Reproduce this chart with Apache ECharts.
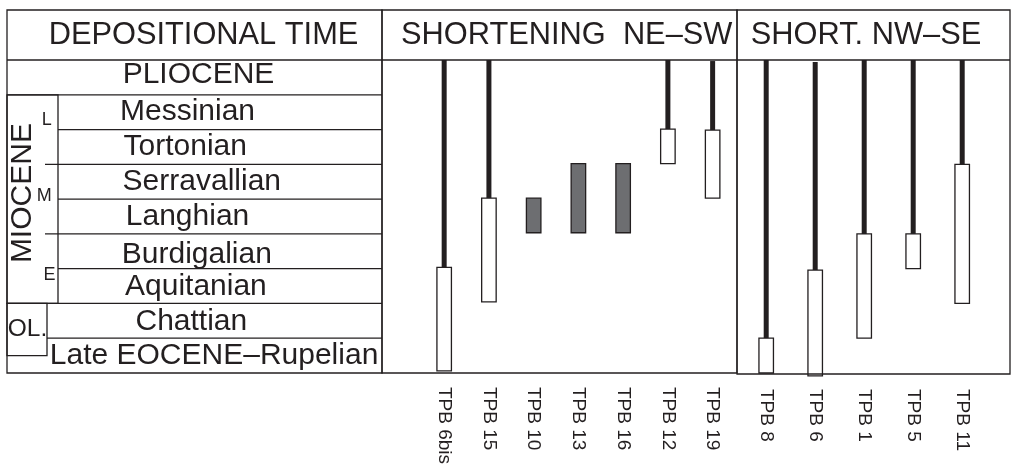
<!DOCTYPE html>
<html>
<head>
<meta charset="utf-8">
<script src="https://cdn.jsdelivr.net/npm/echarts@6/dist/echarts.min.js"></script>
<style>
  html, body { margin: 0; padding: 0; background: #fff; }
  #chart { width: 1011px; height: 467px; }
</style>
</head>
<body>
<div id="chart"></div>
<script>
// ---- Data -----------------------------------------------------------------
// Stages, youngest first; each stage spans one unit of the time axis
// (0 = base of the oldest stage, 9 = top of the Pliocene).
const stages = ['PLIOCENE', 'Messinian', 'Tortonian', 'Serravallian', 'Langhian',
  'Burdigalian', 'Aquitanian', 'Chattian', 'Late EOCENE\u2013Rupelian'];

// Epoch blocks of the left-hand column (time-axis units)
const epochNames = ['MIOCENE', 'OL.'];
const epochBase = [2, 0.5];
const epochTop = [8, 2];

// Miocene subdivisions
const subEpochNames = ['L', 'M', 'E'];
const subEpochBase = [6, 4, 2];
const subEpochTop = [8, 6, 4];

// Sites, NE–SW shortening
const neSwSites = ['TPB 6bis', 'TPB 15', 'TPB 10', 'TPB 13', 'TPB 16', 'TPB 12', 'TPB 19'];
const neSwAgeBase = [0, 2, 4, 4, 4, 6, 5];
const neSwAgeTop = [3, 5, 5, 6, 6, 7, 6.97];
const neSwShortTop = [9, 9, null, null, null, 9, 8.97];
const neSwSynDepo = [false, false, true, true, true, false, false];

// Sites, NW–SE shortening
const nwSeSites = ['TPB 8', 'TPB 6', 'TPB 1', 'TPB 5', 'TPB 11'];
const nwSeAgeBase = [0, -0.08, 1, 3, 2];
const nwSeAgeTop = [1, 2.96, 4, 4, 6];
const nwSeShortTop = [9, 8.94, 9, 9, 9];
const nwSeSynDepo = [false, false, false, false, false];

// ---- Look -----------------------------------------------------------------
const INK = '#231f20';
const GREY = '#6d6e71';
const FONT = "'Liberation Sans', Arial, Helvetica, sans-serif";
const HEAD = 30.8;
const BODY = 30;
const RULE = 1.3;
const BOX_W = 14.5;
const STEM_W = 5;

const FRAME = { left: 7, split1: 382, split2: 737, right: 1010, top: 10, head: 60, bottom: 373 };

// Stage labels: [x offset from the table edge, alignment, vertical nudge]
const stageLabelPos = [
  [191.5, 'center', -3], [113, 'left', 0], [116.5, 'left', 0], [115.6, 'left', 0],
  [118.8, 'left', 0], [114.8, 'left', 3], [118, 'left', 1], [128.5, 'left', 1], [42.8, 'left', 0]
];
const epochColWidth = [51, 40];
// Epoch labels: [x offset, vertical nudge, rotation]
const epochLabelPos = [[16, -6, Math.PI / 2], [20.5, 0, 0]];
const subColIndent = 38;
// Sub-epoch labels: [x offset, offset below block top]
const subEpochLabelPos = [[34.7, 25.5], [29.7, 31.5], [36.6, 41.5]];

function boundaryIndent(b) {
  for (let k = 0; k < epochNames.length; k++) {
    if (b === epochBase[k] || b === epochTop[k]) return 0;
  }
  if (subEpochBase.indexOf(b) >= 0) return subColIndent;
  for (let k = 0; k < epochNames.length; k++) {
    if (b > epochBase[k] && b < epochTop[k]) return epochColWidth[k];
  }
  return 0;
}

const textStyle = (size) => ({ fill: INK, fontFamily: FONT, fontSize: size });

// ---- Series ---------------------------------------------------------------
const stageSeries = {
  type: 'custom', xAxisIndex: 0, yAxisIndex: 0, silent: true,
  data: stages.map((name, i) => [stages.length - 1 - i, stages.length - i]),
  renderItem(params, api) {
    const i = params.dataIndex;
    const base = api.value(0), top = api.value(1);
    const pb = api.coord([0, base]);
    const pt = api.coord([0, top]);
    const rightX = api.coord([375, base])[0];
    const lay = stageLabelPos[i];
    const children = [{
      type: 'text',
      style: Object.assign(textStyle(BODY), {
        text: stages[i], x: pb[0] + lay[0], y: (pb[1] + pt[1]) / 2 + lay[2],
        textAlign: lay[1], textVerticalAlign: 'middle'
      })
    }];
    if (base > 0) {
      children.push({
        type: 'line',
        shape: { x1: pb[0] + boundaryIndent(base), y1: pb[1], x2: rightX, y2: pb[1] },
        style: { stroke: INK, lineWidth: RULE }
      });
    }
    return { type: 'group', children };
  }
};

const epochSeries = {
  type: 'custom', xAxisIndex: 0, yAxisIndex: 0, silent: true,
  data: epochNames.map((n, k) => [epochBase[k], epochTop[k]]),
  renderItem(params, api) {
    const k = params.dataIndex;
    const pb = api.coord([0, api.value(0)]);
    const pt = api.coord([0, api.value(1)]);
    const lay = epochLabelPos[k];
    return {
      type: 'group',
      children: [{
        type: 'rect',
        shape: { x: pb[0], y: pt[1], width: epochColWidth[k], height: pb[1] - pt[1] },
        style: { fill: 'none', stroke: INK, lineWidth: RULE }
      }, {
        type: 'text',
        x: pb[0] + lay[0], y: (pb[1] + pt[1]) / 2 + lay[1], rotation: lay[2],
        style: Object.assign(textStyle(k === 0 ? BODY : 24.5), {
          text: epochNames[k], x: 0, y: 0, textAlign: 'center', textVerticalAlign: 'middle'
        })
      }]
    };
  }
};

const subEpochSeries = {
  type: 'custom', xAxisIndex: 0, yAxisIndex: 0, silent: true,
  data: subEpochNames.map((n, k) => [subEpochBase[k], subEpochTop[k]]),
  renderItem(params, api) {
    const k = params.dataIndex;
    const pt = api.coord([0, api.value(1)]);
    const lay = subEpochLabelPos[k];
    return {
      type: 'text',
      style: Object.assign(textStyle(18), {
        text: subEpochNames[k], x: pt[0] + lay[0], y: pt[1] + lay[1],
        textAlign: 'left', textVerticalAlign: 'middle'
      })
    };
  }
};

function siteSeries(axisIndex, ageBase, ageTop, shortTop, synDepo) {
  return {
    type: 'custom', xAxisIndex: axisIndex, yAxisIndex: axisIndex, silent: true,
    data: ageBase.map((b, i) => [i, b, ageTop[i], shortTop[i] == null ? ageTop[i] : shortTop[i], synDepo[i] ? 1 : 0]),
    renderItem(params, api) {
      const i = api.value(0);
      const pBase = api.coord([i, api.value(1)]);
      const pTop = api.coord([i, api.value(2)]);
      const pStem = api.coord([i, api.value(3)]);
      const children = [];
      if (pTop[1] - pStem[1] > 0.5) {
        children.push({
          type: 'rect',
          shape: { x: pTop[0] - STEM_W / 2, y: pStem[1], width: STEM_W, height: pTop[1] - pStem[1] },
          style: { fill: INK }
        });
      }
      children.push({
        type: 'rect',
        shape: { x: pTop[0] - BOX_W / 2, y: pTop[1], width: BOX_W, height: pBase[1] - pTop[1] },
        style: { fill: api.value(4) ? GREY : '#ffffff', stroke: INK, lineWidth: RULE }
      });
      return { type: 'group', children };
    }
  };
}

// ---- Axes -----------------------------------------------------------------
const hiddenTime = { type: 'value', min: 0, max: 9, show: false };
const siteAxis = (sites, gridIndex) => ({
  type: 'category', gridIndex, data: sites, boundaryGap: true,
  axisLine: { show: false }, axisTick: { show: false }, splitLine: { show: false },
  axisLabel: { interval: 0, rotate: -90, margin: 16, color: INK, fontFamily: FONT, fontSize: 19 }
});

const chart = echarts.init(document.getElementById('chart'), null, { renderer: 'canvas' });
chart.setOption({
  animation: false,
  backgroundColor: '#ffffff',
  grid: [
    { left: 7, top: 60, width: 375, height: 313 },
    { left: 421.8, top: 60, width: 313.2, height: 313 },
    { left: 741.7, top: 60, width: 245, height: 313 }
  ],
  xAxis: [
    { type: 'value', gridIndex: 0, min: 0, max: 375, show: false },
    siteAxis(neSwSites, 1),
    siteAxis(nwSeSites, 2)
  ],
  yAxis: [
    Object.assign({ gridIndex: 0 }, hiddenTime),
    Object.assign({ gridIndex: 1 }, hiddenTime),
    Object.assign({ gridIndex: 2 }, hiddenTime)
  ],
  graphic: [
    { type: 'rect', z: 10, shape: { x: FRAME.left, y: FRAME.top, width: FRAME.split1 - FRAME.left, height: FRAME.bottom - FRAME.top },
      style: { fill: 'none', stroke: INK, lineWidth: RULE } },
    { type: 'rect', z: 10, shape: { x: FRAME.split1, y: FRAME.top, width: FRAME.split2 - FRAME.split1, height: FRAME.bottom - FRAME.top },
      style: { fill: 'none', stroke: INK, lineWidth: RULE } },
    { type: 'rect', z: 10, shape: { x: FRAME.split2, y: FRAME.top, width: FRAME.right - FRAME.split2, height: FRAME.bottom + 1 - FRAME.top },
      style: { fill: 'none', stroke: INK, lineWidth: RULE } },
    { type: 'line', z: 10, shape: { x1: FRAME.left, y1: FRAME.head, x2: FRAME.right, y2: FRAME.head },
      style: { stroke: INK, lineWidth: RULE } },
    { type: 'text', z: 10, style: Object.assign(textStyle(HEAD), { text: 'DEPOSITIONAL TIME', x: 203.5, y: 36, textAlign: 'center', textVerticalAlign: 'middle' }) },
    { type: 'text', z: 10, style: Object.assign(textStyle(HEAD), { text: 'SHORTENING  NE\u2013SW', x: 566.7, y: 36, textAlign: 'center', textVerticalAlign: 'middle' }) },
    { type: 'text', z: 10, style: Object.assign(textStyle(HEAD), { text: 'SHORT. NW\u2013SE', x: 866, y: 36, textAlign: 'center', textVerticalAlign: 'middle' }) }
  ],
  series: [
    stageSeries,
    epochSeries,
    subEpochSeries,
    siteSeries(1, neSwAgeBase, neSwAgeTop, neSwShortTop, neSwSynDepo),
    siteSeries(2, nwSeAgeBase, nwSeAgeTop, nwSeShortTop, nwSeSynDepo)
  ]
});
</script>
</body>
</html>
